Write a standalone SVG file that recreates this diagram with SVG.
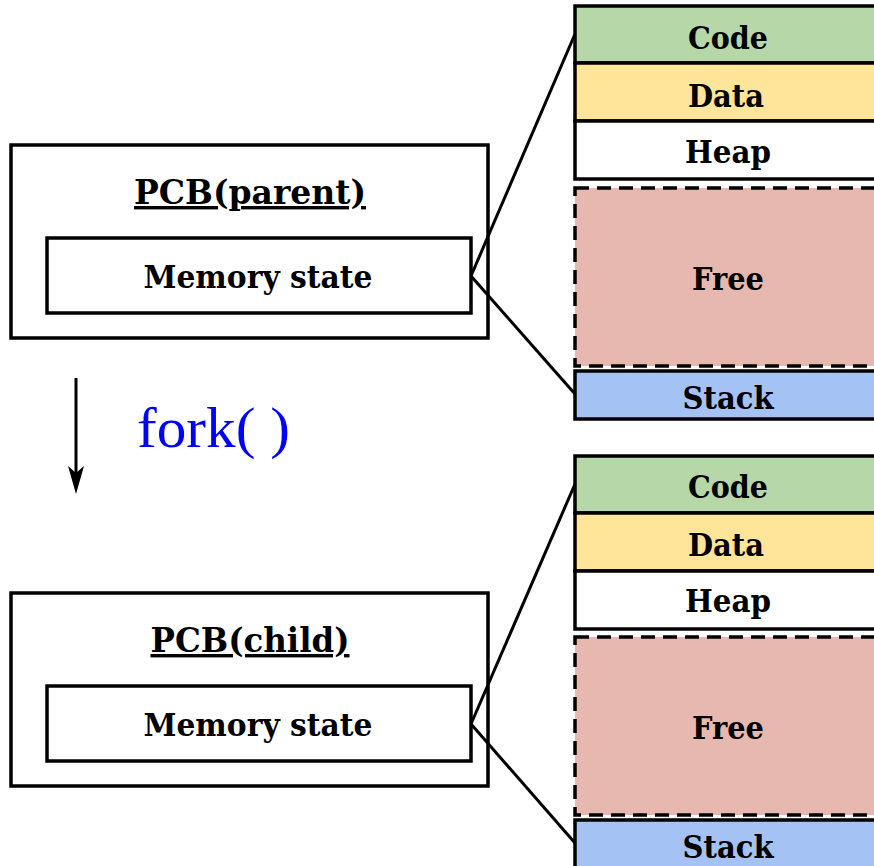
<svg xmlns="http://www.w3.org/2000/svg" width="874" height="866" viewBox="0 0 874 866">
<defs>
<style>
.box{fill:#ffffff;stroke:#000;stroke-width:3.5}
.seg{stroke:#000;stroke-width:3.5}
.free{fill:#e6b8af;stroke:#000;stroke-width:3.5;stroke-dasharray:14,8}
.lbl{font-family:"DejaVu Serif","Liberation Serif",serif;font-weight:bold;font-size:32px;fill:#000;text-anchor:middle}
.title{font-family:"DejaVu Serif","Liberation Serif",serif;font-weight:bold;font-size:34px;fill:#000;text-anchor:middle;text-decoration:underline}
.conn{stroke:#000;stroke-width:3;fill:none}
</style>
</defs>

<g id="parent-pcb">
<rect class="box" x="11" y="145" width="477" height="193"/>
<text class="title" x="250" y="204" textLength="232" lengthAdjust="spacingAndGlyphs">PCB(parent)</text>
<rect class="box" x="47" y="238" width="424" height="75"/>
<text class="lbl" x="258" y="288" textLength="229" lengthAdjust="spacingAndGlyphs">Memory state</text>
</g>

<g id="child-pcb">
<rect class="box" x="11" y="593" width="477" height="193"/>
<text class="title" x="250" y="652" textLength="199" lengthAdjust="spacingAndGlyphs">PCB(child)</text>
<rect class="box" x="47" y="686" width="424" height="75"/>
<text class="lbl" x="258" y="736" textLength="229" lengthAdjust="spacingAndGlyphs">Memory state</text>
</g>

<g id="parent-memory">
<rect class="seg" x="575" y="6" width="310" height="57" fill="#b6d7a8"/>
<text class="lbl" x="728" y="49" textLength="80" lengthAdjust="spacingAndGlyphs">Code</text>
<rect class="seg" x="575" y="63" width="310" height="58" fill="#ffe599"/>
<text class="lbl" x="726" y="107" textLength="76" lengthAdjust="spacingAndGlyphs">Data</text>
<rect class="seg" x="575" y="121" width="310" height="58" fill="#ffffff"/>
<text class="lbl" x="728" y="163" textLength="86" lengthAdjust="spacingAndGlyphs">Heap</text>
<rect class="free" x="575" y="188" width="310" height="178"/>
<text class="lbl" x="728" y="290" textLength="72" lengthAdjust="spacingAndGlyphs">Free</text>
<rect class="seg" x="575" y="371" width="310" height="48" fill="#a4c2f4"/>
<text class="lbl" x="728" y="409" textLength="91" lengthAdjust="spacingAndGlyphs">Stack</text>
</g>

<g id="child-memory">
<rect class="seg" x="575" y="456" width="310" height="57" fill="#b6d7a8"/>
<text class="lbl" x="728" y="498" textLength="80" lengthAdjust="spacingAndGlyphs">Code</text>
<rect class="seg" x="575" y="513" width="310" height="58" fill="#ffe599"/>
<text class="lbl" x="726" y="556" textLength="76" lengthAdjust="spacingAndGlyphs">Data</text>
<rect class="seg" x="575" y="571" width="310" height="58" fill="#ffffff"/>
<text class="lbl" x="728" y="612" textLength="86" lengthAdjust="spacingAndGlyphs">Heap</text>
<rect class="free" x="575" y="637" width="310" height="178"/>
<text class="lbl" x="728" y="739" textLength="72" lengthAdjust="spacingAndGlyphs">Free</text>
<rect class="seg" x="575" y="820" width="310" height="60" fill="#a4c2f4"/>
<text class="lbl" x="728" y="858" textLength="91" lengthAdjust="spacingAndGlyphs">Stack</text>
</g>

<g id="connectors">
<line class="conn" x1="471" y1="276" x2="575" y2="34"/>
<line class="conn" x1="471" y1="276" x2="575" y2="394"/>
<line class="conn" x1="471" y1="724" x2="575" y2="484"/>
<line class="conn" x1="471" y1="724" x2="575" y2="843"/>
<line class="conn" x1="76" y1="378" x2="76" y2="478"/>
<path d="M68,466 L76,494 L84,466 L76,473 Z" fill="#000"/>
</g>

<g id="fork-label">
<text x="137" y="447" font-family="'Liberation Serif','DejaVu Serif',serif" font-size="58" fill="#0000ff" textLength="153" lengthAdjust="spacingAndGlyphs">fork( )</text>
</g>
</svg>
